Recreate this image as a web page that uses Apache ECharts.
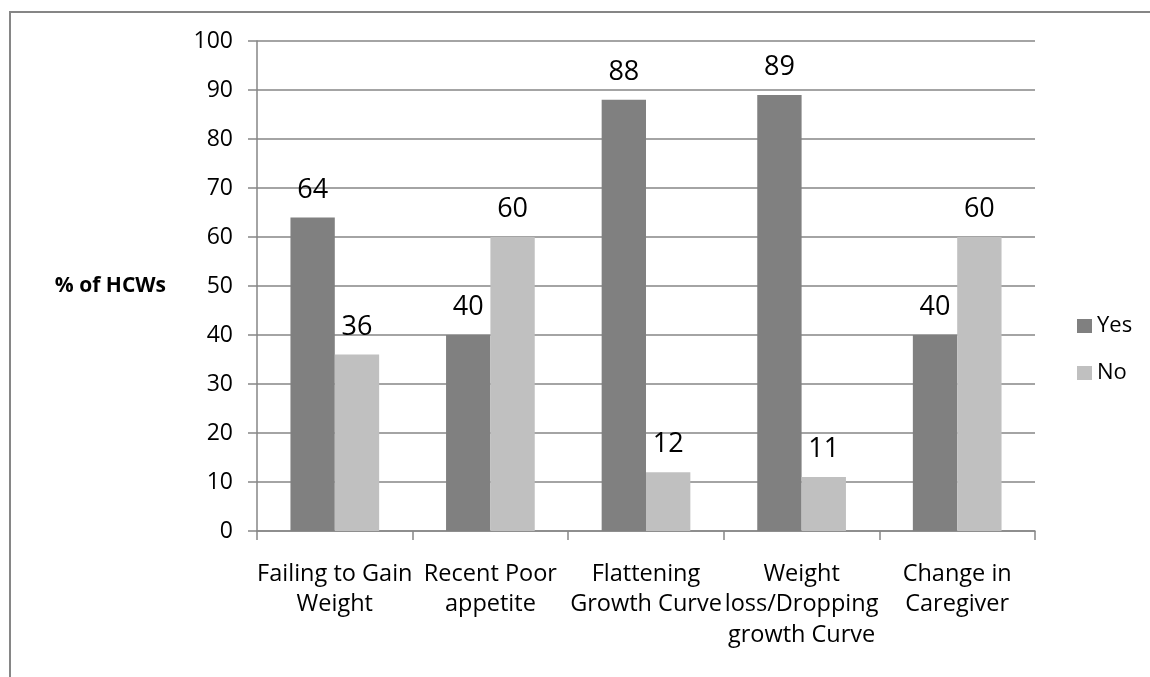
<!DOCTYPE html>
<html>
<head>
<meta charset="utf-8">
<script src="https://cdn.jsdelivr.net/npm/echarts@6/dist/echarts.min.js"></script>
<style>
  html, body { margin: 0; padding: 0; background: #fff; }
  #chart { width: 1150px; height: 677px; }
</style>
</head>
<body>
<div id="chart"></div>
<script>
// Warning signs recognised by health care workers (HCWs)
const categories = [
  'Failing to Gain\nWeight',
  'Recent Poor\nappetite',
  'Flattening\nGrowth Curve',
  'Weight\nloss/Dropping\ngrowth Curve',
  'Change in\nCaregiver'
];
const yesValues = [64, 40, 88, 89, 40];
const noValues = [36, 60, 12, 11, 60];
const seriesNames = ['Yes', 'No'];
const yAxisTitle = '% of HCWs';

const FONT = '"Open Sans", Lato, sans-serif';
const AXIS_GREY = '#868686';

const chart = echarts.init(document.getElementById('chart'), null, { renderer: 'canvas' });

const barLabel = {
  show: true,
  position: 'top',
  distance: 14,
  color: '#000',
  fontFamily: FONT,
  fontSize: 27
};

chart.setOption({
  animation: false,
  backgroundColor: '#fff',
  textStyle: { fontFamily: FONT },
  graphic: [{
    type: 'rect',
    shape: { x: 10, y: 12, width: 1300, height: 900 },
    style: { fill: 'none', stroke: AXIS_GREY, lineWidth: 2 },
    silent: true,
    z: -10
  }],
  grid: { left: 257, right: 115, top: 41, bottom: 146, containLabel: false },
  legend: {
    orient: 'vertical',
    left: 1072,
    top: 310,
    itemWidth: 15,
    itemHeight: 14,
    itemGap: 25,
    icon: 'rect',
    textStyle: { fontFamily: FONT, fontSize: 22, color: '#000' },
    data: seriesNames
  },
  xAxis: {
    type: 'category',
    data: categories,
    boundaryGap: true,
    axisLine: { show: true, lineStyle: { color: AXIS_GREY, width: 1.5 } },
    axisTick: { show: true, length: 9, inside: false, lineStyle: { color: AXIS_GREY, width: 1.5 } },
    axisLabel: {
      interval: 0,
      margin: 28,
      color: '#000',
      fontFamily: FONT,
      fontSize: 23.5,
      lineHeight: 30.5,
      align: 'center'
    }
  },
  yAxis: {
    type: 'value',
    min: 0,
    max: 100,
    interval: 10,
    name: yAxisTitle,
    nameLocation: 'middle',
    nameRotate: 0,
    nameGap: 91,
    nameTextStyle: { fontFamily: FONT, fontSize: 21, fontWeight: 'bold', color: '#000' },
    axisLine: { show: true, lineStyle: { color: AXIS_GREY, width: 1.5 } },
    axisTick: { show: true, length: 9, inside: false, lineStyle: { color: AXIS_GREY, width: 1.5 } },
    axisLabel: { margin: 24, color: '#000', fontFamily: FONT, fontSize: 23 },
    splitLine: { show: true, lineStyle: { color: AXIS_GREY, width: 1.5 } }
  },
  series: [
    {
      name: seriesNames[0],
      type: 'bar',
      data: yesValues,
      barGap: '0%',
      barCategoryGap: '43%',
      itemStyle: { color: '#808080' },
      label: barLabel
    },
    {
      name: seriesNames[1],
      type: 'bar',
      data: noValues,
      barGap: '0%',
      barCategoryGap: '43%',
      itemStyle: { color: '#C0C0C0' },
      label: barLabel
    }
  ]
});
</script>
</body>
</html>
